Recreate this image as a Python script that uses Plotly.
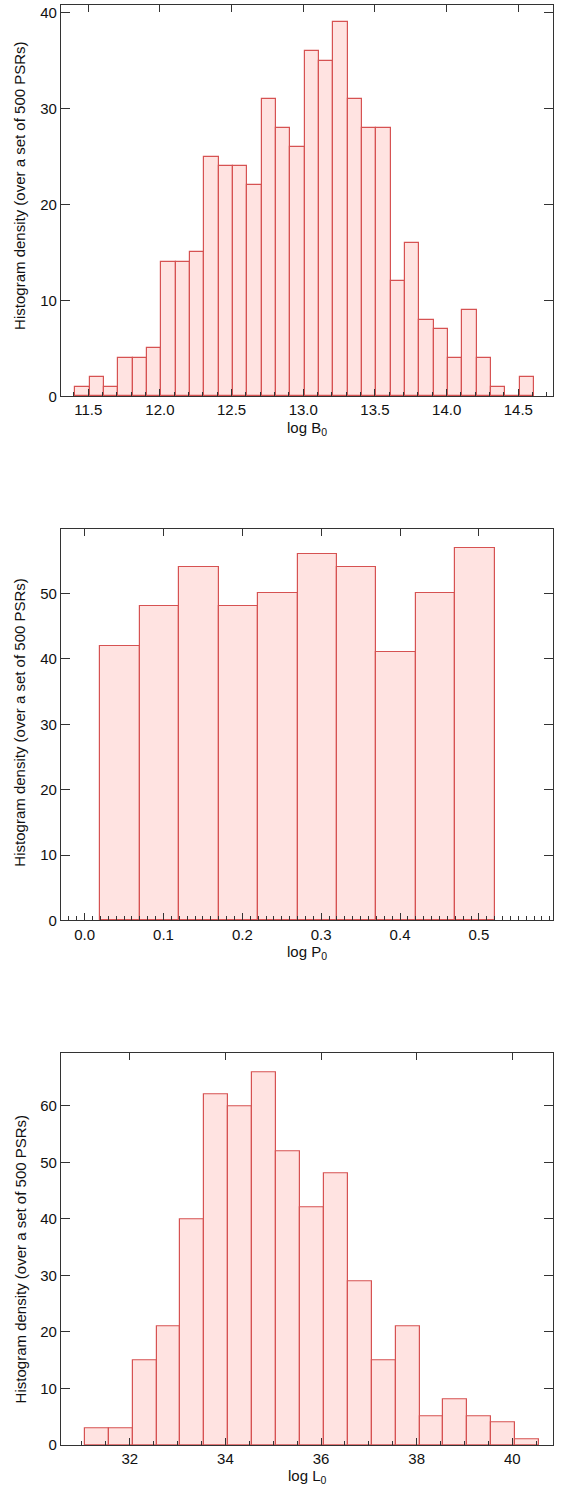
import numpy as np
import plotly.graph_objects as go

# Histogram of log B0 (bins of 0.1)
b_start = 11.41
b_width = 0.1
b_counts = [1, 2, 1, 4, 4, 5, 14, 14, 15, 25, 24, 24, 22, 31, 28, 26,
            36, 35, 39, 31, 28, 28, 12, 16, 8, 7, 4, 9, 4, 1, 0, 2]

# Histogram of log P0 (bins of 0.05)
p_start = 0.02
p_width = 0.05
p_counts = [42, 48, 54, 48, 50, 56, 54, 41, 50, 57]

# Histogram of log L0 (bins of 0.5)
l_start = 31.06
l_width = 0.5
l_counts = [3, 3, 15, 21, 40, 62, 60, 66, 52, 42, 48, 29, 15, 21, 5, 8, 5, 4, 1]

y_title = "Histogram density (over a set of 500 PSRs)"
x_titles = ["log B<sub>0</sub>", "log P<sub>0</sub>", "log L<sub>0</sub>"]

W, H = 563, 1495
FONT = "Liberation Sans, Arial, Helvetica, sans-serif"
FILL = "rgb(255,227,225)"
EDGE = "rgb(214,82,82)"
AXC = "#333333"

panels = [
    dict(start=b_start, width=b_width, counts=b_counts, xr=[11.31, 14.742], yr=[0, 40.8],
         tick0=11.5, dtick=0.5, minor=0.1, fmt=".1f", top=4, bottom=397.7, ytc=186),
    dict(start=p_start, width=p_width, counts=p_counts, xr=[-0.030, 0.594], yr=[0, 59.85],
         tick0=0.0, dtick=0.1, minor=0.01, fmt=".1f", top=531.3, bottom=925, ytc=726),
    dict(start=l_start, width=l_width, counts=l_counts, xr=[30.563, 40.85], yr=[0, 69.3],
         tick0=32, dtick=2, minor=0.5, fmt="d", top=1058.7, bottom=1452.7, ytc=1266),
]

xdom = [61 / W, 553 / W]
fig = go.Figure()
layout = dict(
    width=W, height=H,
    margin=dict(l=0, r=0, t=0, b=0),
    paper_bgcolor="white", plot_bgcolor="white",
    showlegend=False,
    font=dict(family=FONT, size=15, color="#111111"),
    bargap=0,
)
annotations = []

for i, p in enumerate(panels):
    n = i + 1
    xa = "x" if n == 1 else f"x{n}"
    ya = "y" if n == 1 else f"y{n}"
    xt = f"x{n + 3}"
    counts = np.array(p["counts"], dtype=float)
    centers = p["start"] + p["width"] * (np.arange(len(counts)) + 0.5)
    fig.add_trace(go.Bar(
        x=centers, y=counts, width=p["width"], xaxis=xa, yaxis=ya,
        marker=dict(color=FILL, line=dict(color=EDGE, width=1.2)),
        hoverinfo="x+y",
    ))
    # empty trace that holds the top tick axis
    fig.add_trace(go.Scatter(x=[], y=[], xaxis=xt, yaxis=ya, showlegend=False))

    ydom = [1 - p["bottom"] / H, 1 - p["top"] / H]
    xkey = "xaxis" if n == 1 else f"xaxis{n}"
    ykey = "yaxis" if n == 1 else f"yaxis{n}"
    layout[xkey] = dict(
        domain=xdom, anchor=ya, range=p["xr"],
        tickmode="linear", tick0=p["tick0"], dtick=p["dtick"], tickformat=p["fmt"],
        ticks="inside", ticklen=7, tickwidth=1.2, tickcolor=AXC,
        minor=dict(ticks="inside", ticklen=4, tickwidth=1, tickcolor=AXC,
                   tickmode="linear", dtick=p["minor"], tick0=p["tick0"]),
        showline=True, linecolor=AXC, linewidth=1.3, mirror=True,
        showgrid=False, zeroline=False,
        tickfont=dict(family=FONT, size=15, color="#111111"),
    )
    layout[f"xaxis{n + 3}"] = dict(
        overlaying=xa, anchor=ya, side="top", range=p["xr"],
        tickmode="linear", tick0=p["tick0"], dtick=p["dtick"],
        ticks="inside", ticklen=7, tickwidth=1.2, tickcolor=AXC,
        showticklabels=False, showline=False, showgrid=False, zeroline=False,
    )
    layout[ykey] = dict(
        domain=ydom, anchor=xa, range=p["yr"],
        tickmode="linear", tick0=0, dtick=10,
        ticks="inside", ticklen=9, tickwidth=1.2, tickcolor=AXC,
        showline=True, linecolor=AXC, linewidth=1.3, mirror="ticks",
        showgrid=False, zeroline=False,
        tickfont=dict(family=FONT, size=15, color="#111111"),
    )
    annotations.append(dict(
        text=y_title, xref="paper", yref="paper",
        x=20 / W, y=1 - p["ytc"] / H,
        xanchor="center", yanchor="middle", textangle=-90, showarrow=False,
        font=dict(family=FONT, size=15, color="#111111"),
    ))
    annotations.append(dict(
        text=x_titles[i], xref="paper", yref="paper",
        x=(61 + 553) / 2 / W, y=1 - (p["bottom"] + 32) / H,
        xanchor="center", yanchor="middle", showarrow=False,
        font=dict(family=FONT, size=15, color="#111111"),
    ))

layout["annotations"] = annotations
fig.update_layout(**layout)
fig.write_html("out.html")
